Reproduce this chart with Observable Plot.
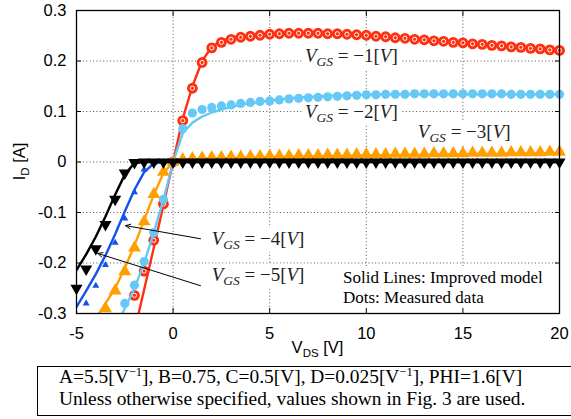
<!DOCTYPE html>
<html><head><meta charset="utf-8">
<script src="https://cdn.jsdelivr.net/npm/d3@7"></script>
<script src="https://cdn.jsdelivr.net/npm/@observablehq/plot@0.6"></script>
<style>
body{margin:0;background:#fff;}
#wrap{position:relative;width:571px;height:419px;overflow:hidden;}
#caption{position:absolute;left:37px;top:366px;width:514px;height:48px;border:1.2px solid #000;
 font-family:"Liberation Serif","Times New Roman",serif;font-size:19.4px;line-height:20.3px;padding-left:21px;box-sizing:content-box;color:#000;white-space:nowrap;}
#caption .sup{font-size:12.5px;position:relative;top:-7px;}
</style></head><body>
<div id="wrap"><div id="chart"></div>
<div id="caption">A=5.5[V<span class="sup">−1</span>], B=0.75, C=0.5[V], D=0.025[V<span class="sup">−1</span>], PHI=1.6[V]<br>Unless otherwise specified, values shown in Fig. 3 are used.</div>
</div>
<script>
// ---- data ----
const vds = [-5,-4.5,-4,-3.5,-3,-2.5,-2,-1.5,-1,-0.5,0,0.5,1,1.5,2,2.5,3,3.5,4,4.5,5,5.5,6,6.5,7,7.5,8,8.5,9,9.5,10,10.5,11,11.5,12,12.5,13,13.5,14,14.5,15,15.5,16,16.5,17,17.5,18,18.5,19,19.5,20];
const xTicks = [-5,0,5,10,15,20];
const yTicks = [-0.3,-0.2,-0.1,0,0.1,0.2,0.3];
const gridX = [0,5,10,15];
const gridY = [-0.2,-0.1,0,0.1,0.2];

// measured data (dots)
const meas1 = [null,null,null,null,null,null,-0.264,-0.216,-0.155,-0.083,0,0.082,0.146,0.197,0.226,0.237,0.243,0.247,0.249,0.251,0.253,0.254,0.255,0.255,0.255,0.255,0.254,0.254,0.253,0.252,0.251,0.249,0.248,0.246,0.245,0.243,0.242,0.240,0.239,0.237,0.236,0.234,0.233,0.231,0.230,0.228,0.227,0.225,0.224,0.222,0.221];
const meas2 = [null,null,null,null,null,-0.28,-0.244,-0.197,-0.14,-0.074,0,0.066,0.097,0.104,0.108,0.111,0.113,0.116,0.118,0.120,0.121,0.123,0.125,0.126,0.127,0.128,0.129,0.130,0.131,0.132,0.133,0.133,0.134,0.134,0.134,0.135,0.135,0.135,0.135,0.135,0.135,0.135,0.135,0.135,0.135,0.134,0.134,0.134,0.134,0.134,0.134];
const meas3 = [null,null,null,-0.29,-0.255,-0.217,-0.170,-0.118,-0.064,-0.02,0,0.005,0.007,0.008,0.009,0.009,0.010,0.010,0.011,0.011,0.012,0.012,0.012,0.013,0.013,0.013,0.014,0.014,0.014,0.015,0.015,0.015,0.015,0.016,0.016,0.016,0.016,0.017,0.017,0.017,0.017,0.018,0.018,0.018,0.018,0.019,0.019,0.019,0.019,0.020,0.020];
const meas4 = [null,-0.28,-0.245,-0.204,-0.16,-0.112,-0.06,-0.015,-0.002,0,0,0,0,0,0,0,0,0,0,0,0,0,0,0,0,0,0,0,0,0,0,0,0,0,0,0,0,0,0,0,0,0,0,0,0,0,0,0,0,0,0];
const meas5 = [-0.25,-0.212,-0.172,-0.124,-0.074,-0.022,-0.001,0,0,0,0,0,0,0,0,0,0,0,0,0,0,0,0,0,0,0,0,0,0,0,0,0,0,0,0,0,0,0,0,0,0,0,0,0,0,0,0,0,0,0,0];

// improved model (solid lines)
const model1 = [null,null,null,null,null,null,-0.335,-0.253,-0.17,-0.085,0,0.086,0.15,0.2,0.228,0.24,0.246,0.249,0.251,0.252,0.253,0.254,0.254,0.254,0.254,0.253,0.253,0.252,0.252,0.251,0.25,0.249,0.248,0.246,0.245,0.243,0.242,0.24,0.239,0.237,0.236,0.234,0.233,0.231,0.23,0.228,0.227,0.225,0.224,0.222,0.221];
const model2 = [null,null,null,null,-0.33,-0.29,-0.25,-0.2,-0.14,-0.075,0,0.057,0.078,0.09,0.098,0.104,0.109,0.113,0.116,0.119,0.122,0.124,0.126,0.128,0.129,0.130,0.131,0.132,0.132,0.133,0.133,0.134,0.134,0.134,0.134,0.134,0.134,0.134,0.134,0.134,0.134,0.134,0.134,0.134,0.134,0.134,0.134,0.134,0.134,0.134,0.134];
const model3 = [null,null,-0.31,-0.28,-0.25,-0.21,-0.165,-0.115,-0.065,-0.022,0,0.003,0.005,0.006,0.007,0.007,0.008,0.008,0.009,0.009,0.010,0.010,0.010,0.011,0.011,0.011,0.012,0.012,0.012,0.013,0.013,0.013,0.013,0.014,0.014,0.014,0.014,0.015,0.015,0.015,0.015,0.016,0.016,0.016,0.016,0.017,0.017,0.017,0.017,0.018,0.018];
const model4 = [-0.287,-0.255,-0.222,-0.185,-0.143,-0.098,-0.055,-0.02,-0.003,0,0,0,0,0,0,0,0,0,0,0,0,0,0,0,0,0,0,0,0,0,0,0,0,0,0,0,0,0,0,0,0,0,0,0,0,0,0,0,0,0,0];
const model5 = [-0.214,-0.183,-0.148,-0.108,-0.065,-0.025,-0.002,0,0,0,0,0,0,0,0,0,0,0,0,0,0,0,0,0,0,0,0,0,0,0,0,0,0,0,0,0,0,0,0,0,0,0,0,0,0,0,0,0,0,0,0];

// annotation anchors (data coordinates)
const labelVgs = ["−1","−2","−3","−4","−5"];
const labelX = [6.85, 6.85, 12.69, 2.02, 2.02];
const labelY = [0.197, 0.0855, 0.046, -0.165, -0.236];
const arrowFrom = [[1.42,-0.152],[1.42,-0.245]];
const arrowTo = [[-2.46,-0.126],[-3.9,-0.181]];
const legendLines = ["Solid Lines: Improved model", "Dots: Measured data"];
const legendX = 8.82;
const legendY = [-0.2406, -0.280];

// ---- styling ----
const colors = ["#ff3010", "#66c8f5", "#ffa000", "#1352e8", "#000000"];
const rows = arr => vds.map((x, i) => ({x, y: arr[i]})).filter(d => d.y != null);
const triDown = {draw(ctx, size){ const y = Math.sqrt(size/(3*Math.sqrt(3))); ctx.moveTo(0, 2*y); ctx.lineTo(Math.sqrt(3)*y, -y); ctx.lineTo(-Math.sqrt(3)*y, -y); ctx.closePath(); }};

const M = [meas1, meas2, meas3, meas4, meas5].map(rows);
const L = [model1, model2, model3, model4, model5].map(rows);
const lw = 2.4;
const grid = {stroke: "#555", strokeDasharray: "1,2.4", strokeWidth: 1, strokeOpacity: 1};

const plot = Plot.plot({
  width: 571, height: 360,
  marginLeft: 76, marginRight: 12, marginTop: 10, marginBottom: 47,
  style: {fontFamily: "'Liberation Sans', Arial, sans-serif", fontSize: "16.5px", color: "#000", background: "#fff", overflow: "visible"},
  x: {domain: [-5, 20], axis: null},
  y: {domain: [-0.3, 0.3], axis: null},
  marks: [
    Plot.ruleX(gridX, {x: d => d, ...grid}),
    Plot.ruleY(gridY, {y: d => d, ...grid}),
    // series -1
    Plot.line(L[0], {x: "x", y: "y", stroke: colors[0], strokeWidth: lw, clip: true}),
    Plot.dot(M[0], {x: "x", y: "y", r: 5.4, fill: colors[0]}),
    Plot.dot(M[0], {x: "x", y: "y", r: 2.1, fill: "none", stroke: "#fff", strokeWidth: 1}),
    // series -2
    Plot.line(L[1], {x: "x", y: "y", stroke: colors[1], strokeWidth: lw, clip: true}),
    Plot.dot(M[1], {x: "x", y: "y", r: 4.6, fill: colors[1]}),
    // series -3
    Plot.line(L[2], {x: "x", y: "y", stroke: colors[2], strokeWidth: lw, clip: true}),
    Plot.dot(M[2], {x: "x", y: "y", r: 4.8, symbol: "triangle", fill: colors[2]}),
    // series -4
    Plot.line(L[3], {x: "x", y: "y", stroke: colors[3], strokeWidth: lw, clip: true}),
    Plot.dot(M[3], {x: "x", y: "y", r: 2.6, symbol: "triangle", fill: colors[3]}),
    // series -5
    Plot.line(L[4], {x: "x", y: "y", stroke: colors[4], strokeWidth: lw, clip: true}),
    Plot.dot(M[4], {x: "x", y: "y", r: 4.5, symbol: triDown, fill: colors[4]}),
    // arrows
    Plot.arrow([0,1], {x1: i => arrowFrom[i][0], y1: i => arrowFrom[i][1], x2: i => arrowTo[i][0], y2: i => arrowTo[i][1], stroke: "#000", strokeWidth: 1, headLength: 8, headAngle: 50}),
    // inward ticks
    Plot.axisX(xTicks, {anchor: "bottom", tickSize: -5, tickFormat: () => "", label: null}),
    Plot.axisX(xTicks, {anchor: "top", tickSize: -5, tickFormat: () => "", label: null}),
    Plot.axisY(yTicks, {anchor: "left", tickSize: -5, tickFormat: () => "", label: null}),
    Plot.axisY(yTicks, {anchor: "right", tickSize: -5, tickFormat: () => "", label: null}),
    // tick labels
    Plot.axisX(xTicks, {anchor: "bottom", tickSize: 0, tickPadding: 14, tickFormat: d => String(d), label: null}),
    Plot.axisY(yTicks, {anchor: "left", tickSize: 0, tickPadding: 10, tickFormat: d => String(d), label: null}),
    Plot.frame({stroke: "#000", strokeWidth: 1.3})
  ]
});
document.getElementById("chart").appendChild(plot);

// ---- text with sub/superscripts, added through the plot's scales ----
const svg = d3.select(plot);
const sx = plot.scale("x"), sy = plot.scale("y");
const serif = "'Liberation Serif','Times New Roman',serif";
const sans = "'Liberation Sans',Arial,sans-serif";
const rules = plot.querySelectorAll('[aria-label="rule"]');
const anchorNode = rules[rules.length - 1].nextSibling;
function whiteBox(node, pad){
  const b = node.getBBox();
  const r = document.createElementNS("http://www.w3.org/2000/svg", "rect");
  r.setAttribute("x", b.x - pad[0]); r.setAttribute("y", b.y - pad[1]);
  r.setAttribute("width", b.width + 2*pad[0]); r.setAttribute("height", b.height + 2*pad[1]);
  r.setAttribute("fill", "#fff");
  plot.insertBefore(r, anchorNode);
}
// V_GS labels
labelVgs.forEach((v, i) => {
  const t = svg.append("text").attr("x", sx.apply(labelX[i])).attr("y", sy.apply(labelY[i]))
    .attr("text-anchor", "start").attr("font-family", serif).attr("font-size", 19).attr("fill", "#222");
  t.append("tspan").attr("font-style", "italic").text("V");
  t.append("tspan").attr("font-style", "italic").attr("font-size", 13.5).attr("dy", 4).text("GS");
  t.append("tspan").attr("dy", -4).text(" = " + v + "[");
  t.append("tspan").attr("font-style", "italic").text("V");
  t.append("tspan").text("]");
  whiteBox(t.node(), [3, 0]);
});
// legend text
const lg = svg.append("g");
legendLines.forEach((s, i) => {
  lg.append("text").attr("x", sx.apply(legendX)).attr("y", sy.apply(legendY[i]))
    .attr("text-anchor", "start").attr("font-family", serif).attr("font-size", 17).attr("fill", "#000").text(s);
});
{
  const b = lg.node().getBBox();
  const r = document.createElementNS("http://www.w3.org/2000/svg", "rect");
  r.setAttribute("x", b.x - 5); r.setAttribute("y", b.y - 2);
  r.setAttribute("width", sx.range[1] - b.x + 5); r.setAttribute("height", sy.range[0] - b.y + 2);
  r.setAttribute("fill", "#fff");
  plot.insertBefore(r, anchorNode);
}
// axis labels
{
  const cx = (sx.range[0] + sx.range[1]) / 2;
  const t = svg.append("text").attr("x", cx).attr("y", 353).attr("text-anchor", "middle")
    .attr("font-family", sans).attr("font-size", 16.5);
  t.append("tspan").text("V");
  t.append("tspan").attr("font-size", 11.5).attr("dy", 4).text("DS");
  t.append("tspan").attr("dy", -4).text(" [V]");
  const cy = (sy.range[0] + sy.range[1]) / 2;
  const u = svg.append("text").attr("transform", `translate(25,${cy}) rotate(-90)`).attr("text-anchor", "middle")
    .attr("font-family", sans).attr("font-size", 16.5);
  u.append("tspan").text("I");
  u.append("tspan").attr("font-size", 11.5).attr("dy", 4).text("D");
  u.append("tspan").attr("dy", -4).text(" [A]");
}
</script>
</body></html>
